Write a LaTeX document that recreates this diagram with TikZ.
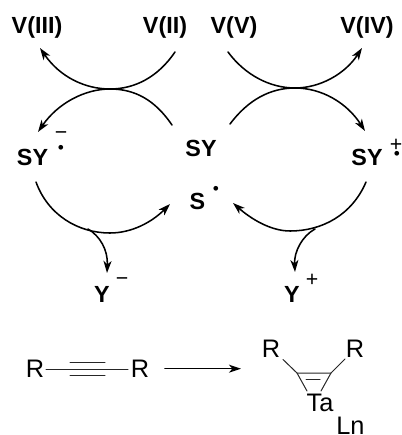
\documentclass[tikz,border=0pt]{standalone}
\usepackage{fontspec}
\setmainfont{Liberation Sans}
\usetikzlibrary{arrows.meta}
\tikzset{
	lab/.style={font=\fontsize{17.5}{18}\selectfont\bfseries,inner sep=0pt},
	plain/.style={font=\fontsize{19}{20}\selectfont,inner sep=0pt},
	chg/.style={font=\fontsize{16}{18}\selectfont,inner sep=0pt},
	rad/.style={font=\fontsize{13}{14}\selectfont,inner sep=0pt},
	arc/.style={line width=1.15pt},
	bond/.style={line width=.75pt,black!85}
}
\begin{document}
\begin{tikzpicture}[line join=round,line cap=round,>={Stealth[length=9pt,width=6pt,inset=2.5pt]},x=.75pt,y=-.75pt]
	\useasboundingbox (0,0) rectangle (401,435);
	% labels
	\node[lab] (v3) at (37,27) {V(III)};
	\node[lab] (v2) at (165,27) {V(II)};
	\node[lab] (v5) at (234,27) {V(V)};
	\node[lab] (v4) at (367,27) {V(IV)};
	\node[lab] (syl) at (32.5,157.5) {SY};
	\node[lab] (syc) at (201,148) {SY};
	\node[lab] (syr) at (367,157.5) {SY};
	\node[lab] (s) at (197.5,201) {S};
	\node[lab] (yl) at (102,294) {Y};
	\node[lab] (yr) at (292,294) {Y};
	\node[chg] (syl-c) at (61,136) {−};
	\node[rad] (syl-r) at (61,149) {•};
	\node[chg] (syr-c) at (396,145) {+};
	\node[rad] (syr-r) at (397,155) {•};
	\node[rad] (s-r) at (216,190) {•};
	\node[chg] (yl-c) at (122,282) {−};
	\node[chg] (yr-c) at (312,280) {+};
	% curve ends
	\coordinate (a1) at (175,52); \coordinate (a2) at (40,48);
	\coordinate (b1) at (172,125); \coordinate (b2) at (38,132);
	\coordinate (c1) at (228,52); \coordinate (c2) at (362,48);
	\coordinate (d1) at (230,124); \coordinate (d2) at (365,131);
	\coordinate (e1) at (36,182); \coordinate (e2) at (170,204);
	\coordinate (f1) at (366,182); \coordinate (f2) at (233,203);
	\coordinate (g1) at (88,229); \coordinate (g2) at (107,273);
	\coordinate (h1) at (315,229); \coordinate (h2) at (295,272);
	\draw[arc,->] (a1) .. controls (158,77) and (135,89) .. (110,89) .. controls (85,89) and (60,77) .. (a2);
	\draw[arc,->] (b1) .. controls (155,100) and (135,89) .. (110,89) .. controls (85,89) and (58,103) .. (b2);
	\draw[arc,->] (c1) .. controls (245,75) and (270,88) .. (295,88) .. controls (320,88) and (345,74) .. (c2);
	\draw[arc,->] (d1) .. controls (248,100) and (270,88) .. (295,88) .. controls (322,88) and (347,103) .. (d2);
	\draw[arc,->] (e1) .. controls (48,215) and (78,233) .. (110,233) .. controls (132,233) and (152,222) .. (e2);
	\draw[arc,->] (f1) .. controls (352,215) and (322,231) .. (290,231) .. controls (270,231) and (250,218) .. (f2);
	\draw[arc,->] (g1) .. controls (100,236) and (108,250) .. (g2);
	\draw[arc,->] (h1) .. controls (302,236) and (294,252) .. (h2);
	% alkyne
	\node[plain] (r1) at (35,369) {R};
	\node[plain] (r2) at (140,369) {R};
	\draw[bond] (r1) ++(11,0) coordinate (r1e) -- ++(82,0) coordinate (r2e);
	\draw[bond] (70,362.7) coordinate (t1) -- (105,362.7) coordinate (t2);
	\draw[bond] (70,375) coordinate (t3) -- (105,375) coordinate (t4);
	\coordinate (p1) at (165,368.7); \coordinate (p2) at (241,368.7);
	\draw[arc,->] (p1) -- (p2);
	% tantalum complex
	\node[plain] (r3) at (271,349) {R};
	\node[plain] (r4) at (355,349) {R};
	\node[plain] (ta) at (320,403) {Ta};
	\node[plain,anchor=base west] (ln) at (336,434.5) {Ln};
	\coordinate (k1) at (297,373); \coordinate (k2) at (331,373);
	\coordinate (m1) at (306,379); \coordinate (m2) at (320,379);
	\draw[bond] (283,359.5) coordinate (n1) -- (k1) -- (k2) -- (345,359) coordinate (n2);
	\draw[bond] (k1) -- (307,391) coordinate (q1);
	\draw[bond] (k2) -- (321,391) coordinate (q2);
	\draw[bond] (m1) -- (m2);
\end{tikzpicture}
\end{document}
